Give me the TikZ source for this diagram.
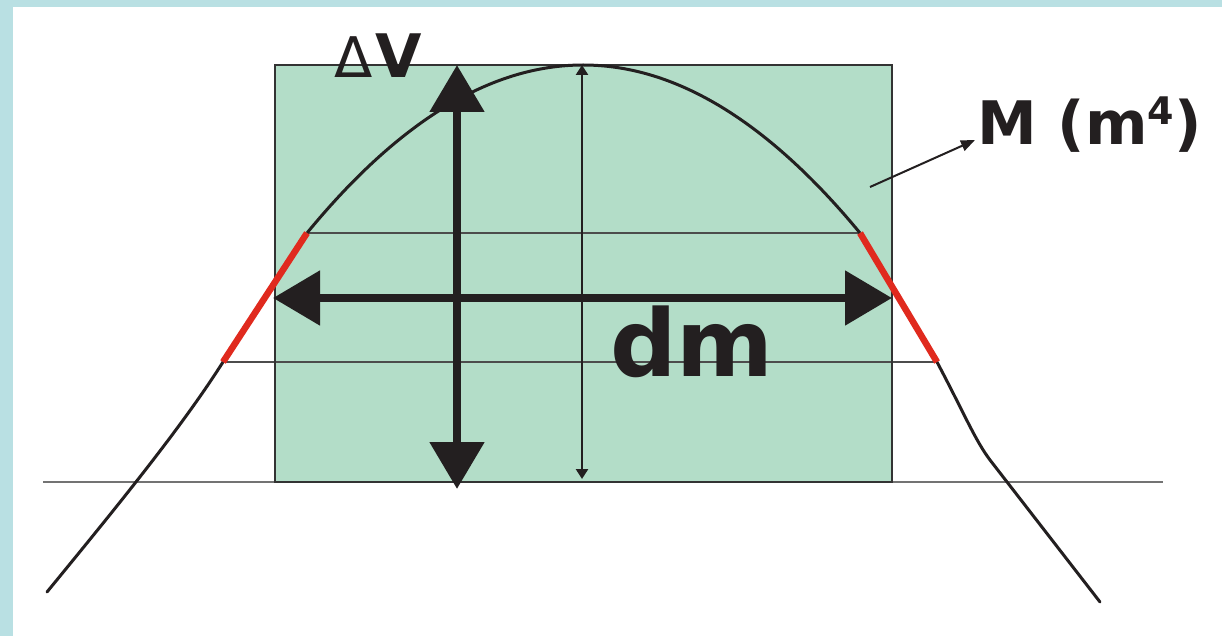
\documentclass[tikz,border=0pt]{standalone}
\usepackage{fontspec}
\setmainfont{DejaVu Sans}
\usetikzlibrary{arrows.meta}
\definecolor{bordercol}{HTML}{B9E0E3}
\definecolor{boxfill}{HTML}{B3DDC8}
\definecolor{ink}{HTML}{231F20}
\definecolor{redseg}{HTML}{E02A1E}
\tikzset{
  thinline/.style={draw=black!70, line width=1.8pt},
  curveline/.style={draw=ink, line width=3pt},
  redline/.style={draw=redseg, line width=6.5pt},
  bigarrow/.style={draw=ink, line width=8.5pt, {Triangle[length=47pt,width=53pt]}-{Triangle[length=47pt,width=53pt]}},
  smallarrow/.style={draw=ink, line width=2.5pt, {Triangle[length=10pt,width=12pt]}-{Triangle[length=10pt,width=12pt]}},
  pointer/.style={draw=ink, line width=2pt, -{Triangle[length=14pt,width=11pt]}},
  lbl/.style={anchor=base west, inner sep=0pt, text=ink}
}
\begin{document}
\begin{tikzpicture}[x=1pt,y=-1pt]
\useasboundingbox (0,0) rectangle (1222,636);
\fill[bordercol] (0,0) rectangle (1222,636);
\fill[white] (13,7) rectangle (1222,636);
% green box
\fill[boxfill] (275,65) rectangle (892,482);
% horizontal lines
\draw[thinline, draw=black!55] (43,482) -- (1163,482);
\draw[thinline] (307,233) -- (860,233);
\draw[thinline] (223,362) -- (937,362);
\draw[draw=black!80, line width=2.5pt] (275,65) rectangle (892,482);
% curve
\coordinate (L0) at (47,592);
\coordinate (L1) at (223,362);
\coordinate (L2) at (307,233);
\coordinate (R2) at (860,233);
\coordinate (R1) at (937,362);
\coordinate (Rk) at (990,460);
\coordinate (R0) at (1100,602);
\draw[curveline, line cap=round] (L0) .. controls (110,515) and (180,430) .. (L1);
\draw[curveline] (L2) .. controls (491,9) and (675,9) .. (R2);
\draw[curveline, line cap=round] (R1) .. controls (965,415) and (975,440) .. (Rk) -- (R0);
\draw[redline] (L1) -- (L2);
\draw[redline] (R2) -- (R1);
% arrows
\coordinate (vtop) at (582,65);
\coordinate (vbot) at (582,479);
\draw[smallarrow] (vbot) -- (vtop);
\coordinate (dvtop) at (457,65);
\coordinate (dvbot) at (457,489);
\draw[bigarrow] (dvbot) -- (dvtop);
\coordinate (dml) at (273,298);
\coordinate (dmr) at (892,298);
\draw[bigarrow] (dml) -- (dmr);
% labels
\node[lbl, font=\fontsize{56}{56}\selectfont] (delta) at (334,78) {Δ};
\node[lbl, font=\fontsize{60}{60}\selectfont\bfseries] (V) at (375,78) {V};
\node[lbl, font=\fontsize{93}{93}\selectfont\bfseries] (dm) at (610,376) {dm};
\node[lbl, font=\fontsize{60}{60}\selectfont\bfseries] (M) at (977,145) {M (m\raisebox{20pt}{\fontsize{38}{38}\selectfont 4})};
\coordinate (ptr) at (870,187);
\draw[pointer] (ptr) -- (975,140);
\end{tikzpicture}
\end{document}
